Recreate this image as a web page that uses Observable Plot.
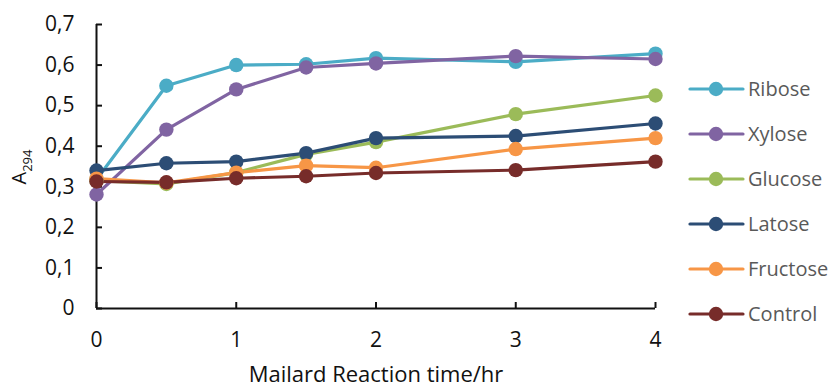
<!DOCTYPE html>
<html><head><meta charset="utf-8">
<script src="https://cdn.jsdelivr.net/npm/d3@7"></script>
<script src="https://cdn.jsdelivr.net/npm/@observablehq/plot@0.6"></script>
<style>body{margin:0;background:#fff;} svg{display:block;}</style>
</head><body><div id="chart"></div>
<script>
const times = [0, 0.5, 1, 1.5, 2, 3, 4];
const seriesNames = ["Ribose", "Xylose", "Glucose", "Latose", "Fructose", "Control"];
const seriesColors = ["#4BACC6", "#8064A2", "#9BBB59", "#2C4D75", "#F79646", "#772C2A"];
const ribose   = [0.318, 0.549, 0.600, 0.602, 0.617, 0.608, 0.628];
const xylose   = [0.281, 0.441, 0.540, 0.594, 0.604, 0.622, 0.615];
const glucose  = [0.315, 0.307, 0.335, 0.380, 0.410, 0.479, 0.525];
const latose   = [0.340, 0.358, 0.362, 0.383, 0.420, 0.425, 0.456];
const fructose = [0.320, 0.310, 0.335, 0.352, 0.347, 0.393, 0.420];
const control  = [0.313, 0.311, 0.321, 0.326, 0.334, 0.341, 0.362];
const yTicks = [0, 0.1, 0.2, 0.3, 0.4, 0.5, 0.6, 0.7];
const xTicks = [0, 1, 2, 3, 4];
const xTitle = "Mailard Reaction time/hr";

const allSeries = [ribose, xylose, glucose, latose, fructose, control];
const data = [];
allSeries.forEach((vals, i) => vals.forEach((v, j) => data.push({series: seriesNames[i], t: times[j], a: v})));

const FONT = "'Open Sans', sans-serif";
const fmt = d => d === 0 ? "0" : d.toFixed(1).replace(".", ",");
const W = 832, H = 389;
const chart = Plot.plot({
  width: W, height: H,
  marginLeft: 96, marginRight: 177, marginTop: 24, marginBottom: 81,
  style: {fontFamily: FONT, fontSize: "21px", color: "#111", background: "#fff"},
  x: {domain: [0, 4]},
  y: {domain: [0, 0.7]},
  color: {domain: seriesNames, range: seriesColors},
  marks: [
    Plot.axisY({ticks: yTicks, tickSize: 0, tickPadding: 22, tickFormat: fmt, label: null, fontSize: 21}),
    Plot.axisY({ticks: yTicks, tickSize: -6, tickFormat: () => "", label: null, stroke: "#111", strokeWidth: 2}),
    Plot.axisX({ticks: xTicks, tickSize: 0, tickPadding: 24, tickFormat: d => String(d), label: null, fontSize: 21}),
    Plot.axisX({ticks: xTicks, tickSize: -6, tickFormat: () => "", label: null, stroke: "#111", strokeWidth: 2}),
    Plot.ruleX([0], {stroke: "#111", strokeWidth: 2}),
    Plot.ruleY([0], {stroke: "#111", strokeWidth: 2}),
    ...seriesNames.map(name => Plot.line(data.filter(d => d.series === name), {x: "t", y: "a", stroke: "series", strokeWidth: 3.2})),
    ...seriesNames.map(name => Plot.dot(data.filter(d => d.series === name), {x: "t", y: "a", fill: "series", r: 7.2}))
  ]
});
document.getElementById("chart").append(chart);

const svg = d3.select(chart);
// y title with subscript
const yt = svg.append("text")
  .attr("transform", "translate(26,167) rotate(-90)")
  .attr("text-anchor", "middle")
  .attr("font-family", FONT).attr("font-size", 20).attr("fill", "#111");
yt.append("tspan").text("A");
yt.append("tspan").attr("font-size", 13).attr("dy", 6).text("294");
// x title
svg.append("text").attr("x", 376).attr("y", 382)
  .attr("text-anchor", "middle").attr("font-family", FONT)
  .attr("font-size", 22).attr("fill", "#111").text(xTitle);
// legend
const lg = svg.append("g");
seriesNames.forEach((name, i) => {
  const y = 89 + i * 45;
  lg.append("line").attr("x1", 690).attr("x2", 743).attr("y1", y).attr("y2", y)
    .attr("stroke", seriesColors[i]).attr("stroke-width", 3.2).attr("stroke-linecap", "round");
  lg.append("circle").attr("cx", 716).attr("cy", y).attr("r", 7.2).attr("fill", seriesColors[i]);
  lg.append("text").attr("x", 748).attr("y", y).attr("dy", "0.35em").attr("text-anchor", "start")
    .attr("font-family", FONT).attr("font-size", 20).attr("fill", "#595959").text(name);
});
</script></body></html>
